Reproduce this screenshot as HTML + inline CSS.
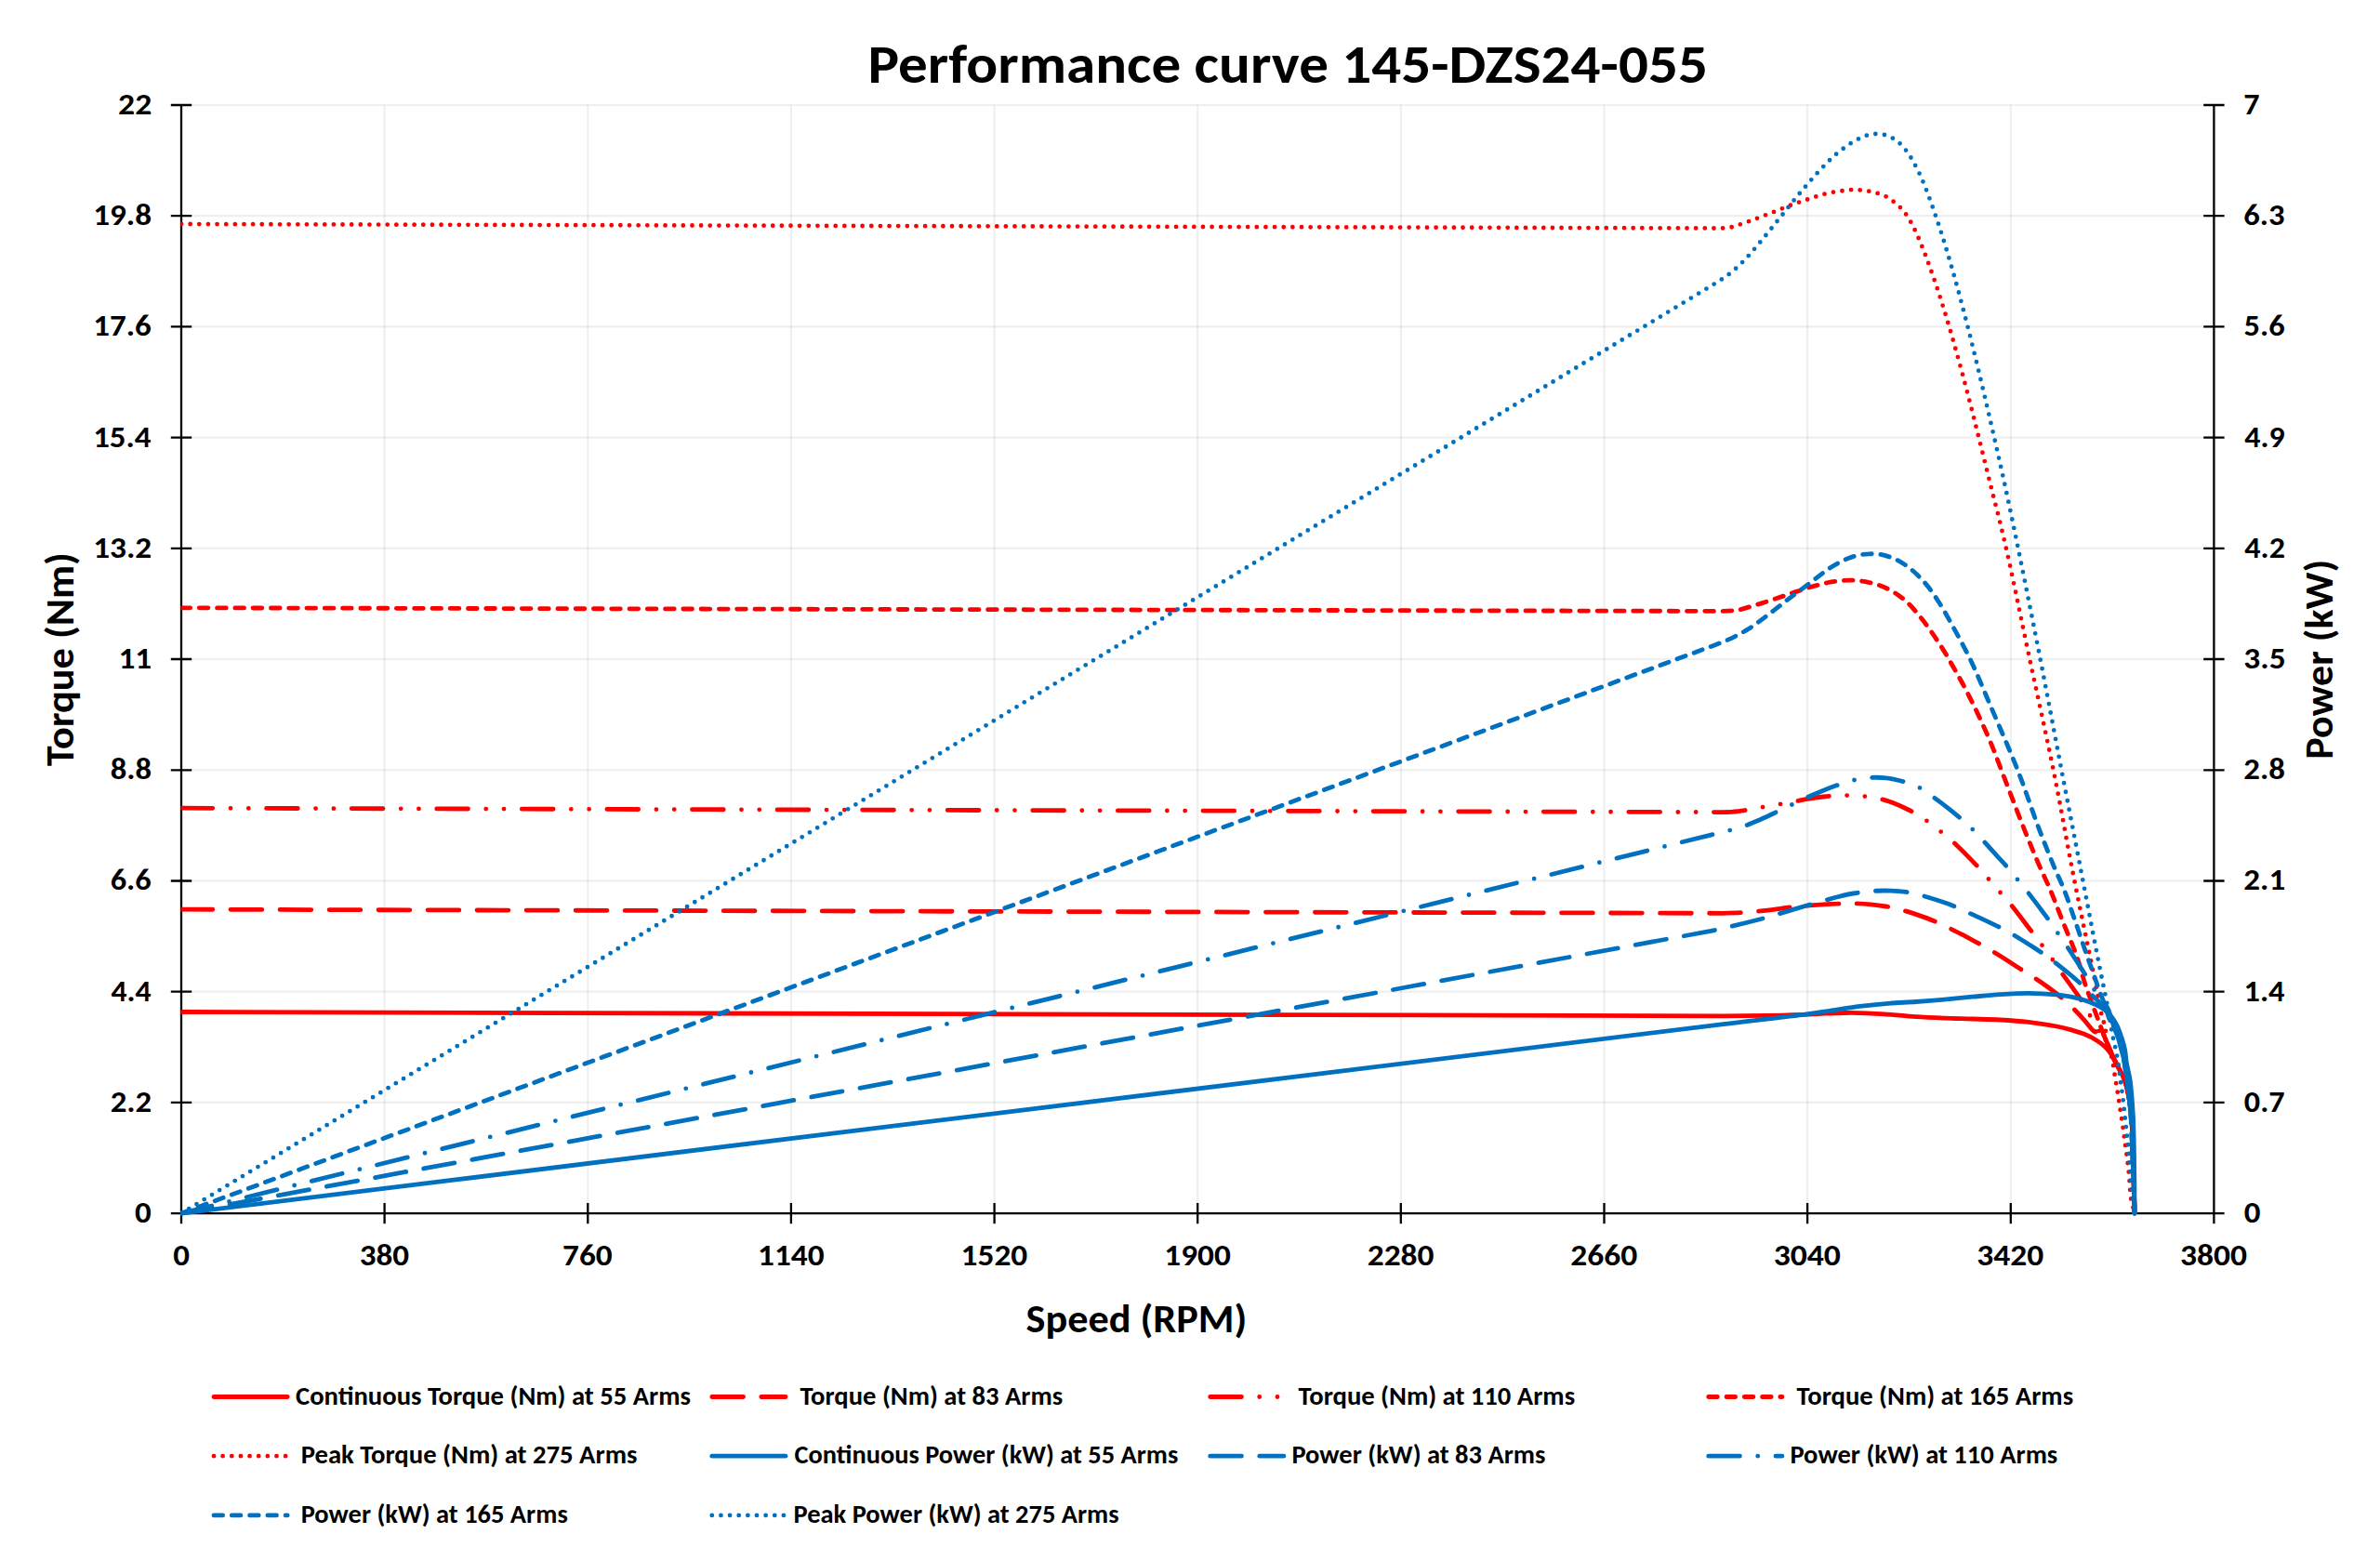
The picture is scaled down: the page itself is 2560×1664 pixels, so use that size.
<!DOCTYPE html>
<html lang="en"><head><meta charset="utf-8"><title>Performance curve 145-DZS24-055</title>
<style>
html,body{margin:0;padding:0;background:#fff;}
body{width:2560px;height:1664px;overflow:hidden;}
svg{display:block;}
text{font-family:Carlito,"Liberation Sans",sans-serif;font-weight:700;fill:#000;font-size-adjust:cap-height 0.6484;}
.ser{fill:none;stroke-width:4.82;stroke-linecap:round;stroke-linejoin:round;}
.ax{stroke:#000;stroke-width:2.3;fill:none;}
.gr{stroke:#000;stroke-opacity:.062;stroke-width:2.2;fill:none;}
</style></head><body>
<svg width="2560" height="1664" viewBox="0 0 2560 1664">
<rect width="2560" height="1664" fill="#fff"/>
<path class="gr" d="M195.0 113.0H2381.4M195.0 232.2H2381.4M195.0 351.4H2381.4M195.0 470.6H2381.4M195.0 589.8H2381.4M195.0 709.0H2381.4M195.0 828.3H2381.4M195.0 947.5H2381.4M195.0 1066.7H2381.4M195.0 1185.9H2381.4"/>
<path class="gr" d="M413.6 113.0V1305.1M632.3 113.0V1305.1M850.9 113.0V1305.1M1069.6 113.0V1305.1M1288.2 113.0V1305.1M1506.8 113.0V1305.1M1725.5 113.0V1305.1M1944.1 113.0V1305.1M2162.8 113.0V1305.1"/>
<path class="ax" d="M195.0 113.0V1316.3M2381.4 113.0V1316.3M183.8 1305.1H2392.6M183.8 113.0H206.2M2370.2 113.0H2392.6M183.8 232.2H206.2M2370.2 232.2H2392.6M183.8 351.4H206.2M2370.2 351.4H2392.6M183.8 470.6H206.2M2370.2 470.6H2392.6M183.8 589.8H206.2M2370.2 589.8H2392.6M183.8 709.0H206.2M2370.2 709.0H2392.6M183.8 828.3H206.2M2370.2 828.3H2392.6M183.8 947.5H206.2M2370.2 947.5H2392.6M183.8 1066.7H206.2M2370.2 1066.7H2392.6M183.8 1185.9H206.2M2370.2 1185.9H2392.6M413.6 1293.9V1316.3M632.3 1293.9V1316.3M850.9 1293.9V1316.3M1069.6 1293.9V1316.3M1288.2 1293.9V1316.3M1506.8 1293.9V1316.3M1725.5 1293.9V1316.3M1944.1 1293.9V1316.3M2162.8 1293.9V1316.3"/>
<defs><clipPath id="plot"><rect x="194.5" y="110.0" width="2189.9" height="1197.7"/></clipPath></defs>
<g clip-path="url(#plot)">
<path class="ser" stroke="#ff0000" d="M195.0 1088.5 L1852.4 1092.8C1868.3 1092.7 1884.1 1092.6 1900.0 1092.3C1913.3 1092.1 1926.7 1091.7 1940.0 1091.3C1947.6 1091.0 1955.1 1090.5 1962.7 1090.2C1970.3 1089.9 1977.8 1089.6 1985.4 1089.5C1993.0 1089.4 2000.5 1089.5 2008.1 1089.8C2015.7 1090.1 2023.2 1090.6 2030.8 1091.1C2040.8 1091.9 2050.9 1093.0 2061.0 1093.7C2071.1 1094.4 2081.2 1094.8 2091.3 1095.2C2101.3 1095.6 2111.4 1095.7 2121.5 1096.0C2131.6 1096.3 2141.7 1096.4 2151.8 1097.0C2161.9 1097.6 2172.0 1098.3 2182.0 1099.4C2192.1 1100.6 2202.2 1102.2 2212.3 1104.0C2217.4 1104.9 2222.4 1106.2 2227.4 1107.6C2232.5 1109.1 2237.6 1110.6 2242.5 1112.6C2246.7 1114.3 2250.8 1116.3 2254.6 1118.7C2257.8 1120.6 2260.9 1122.9 2263.7 1125.5C2265.9 1127.5 2268.0 1129.8 2269.7 1132.3C2271.5 1134.7 2272.9 1137.4 2274.3 1140.0C2275.9 1143.0 2277.5 1146.0 2279.0 1149.0C2281.0 1153.0 2283.5 1156.8 2285.0 1161.0C2287.0 1166.5 2288.4 1172.3 2289.5 1178.0C2290.9 1185.3 2291.9 1192.6 2292.5 1200.0C2293.4 1210.0 2293.6 1220.0 2294.0 1230.0C2294.4 1241.7 2294.7 1253.3 2295.0 1265.0C2295.4 1278.4 2295.7 1291.7 2296.0 1305.1"/>
<path class="ser" stroke="#ff0000" stroke-dasharray="33.74 19.28" d="M195.0 978.2 L1852.4 982.3C1859.2 982.2 1865.9 982.1 1872.6 981.7C1878.0 981.5 1883.4 980.9 1888.7 980.4C1895.0 979.8 1901.3 979.0 1907.6 978.3C1913.8 977.5 1920.1 976.5 1926.4 975.8C1932.4 975.2 1938.4 974.7 1944.4 974.2C1950.0 973.7 1955.7 973.2 1961.3 972.9C1966.7 972.5 1972.1 972.2 1977.5 972.1C1982.9 971.9 1988.2 971.7 1993.6 971.8C1999.9 971.9 2006.2 972.3 2012.4 972.9C2017.8 973.4 2023.2 974.1 2028.6 975.0C2034.0 976.0 2039.4 977.1 2044.7 978.5C2051.1 980.2 2057.3 982.3 2063.5 984.4C2069.0 986.3 2074.4 988.2 2079.7 990.4C2085.1 992.6 2090.5 995.3 2095.8 997.9C2101.2 1000.5 2106.6 1003.1 2111.9 1005.9C2121.9 1011.3 2131.9 1016.6 2141.7 1022.4C2152.3 1028.6 2162.5 1035.4 2172.9 1042.0C2177.7 1045.0 2182.3 1048.1 2187.1 1051.1C2187.4 1051.3 2187.8 1051.3 2188.1 1051.5C2196.2 1057.3 2204.5 1062.8 2212.3 1069.0C2218.4 1073.8 2224.1 1079.1 2229.7 1084.5C2234.0 1088.5 2237.9 1092.9 2241.8 1097.2C2245.7 1101.4 2249.6 1107.9 2253.3 1110.0C2254.5 1110.7 2255.4 1106.9 2256.5 1105.5C2257.3 1104.5 2258.5 1102.2 2259.0 1102.8C2260.5 1104.6 2261.4 1109.4 2262.7 1112.7C2264.1 1116.2 2265.6 1119.6 2267.0 1123.0C2268.3 1126.2 2269.6 1129.3 2271.0 1132.5C2272.1 1135.0 2273.1 1137.5 2274.3 1140.0C2275.8 1143.0 2277.5 1146.0 2279.0 1149.0C2281.0 1153.0 2283.5 1156.8 2285.0 1161.0C2287.0 1166.5 2288.4 1172.3 2289.5 1178.0C2290.9 1185.3 2291.9 1192.6 2292.5 1200.0C2293.4 1210.0 2293.6 1220.0 2294.0 1230.0C2294.4 1241.7 2294.7 1253.3 2295.0 1265.0C2295.4 1278.4 2295.7 1291.7 2296.0 1305.1"/>
<path class="ser" stroke="#ff0000" stroke-dasharray="33.74 19.28 0 19.28 0 19.28" d="M195.0 869.2 L1852.4 873.6C1858.3 873.5 1864.1 873.3 1869.9 872.6C1878.0 871.6 1886.1 869.9 1894.1 868.5C1904.9 866.7 1915.6 864.8 1926.4 862.9C1932.4 861.8 1938.4 860.4 1944.4 859.4C1950.0 858.4 1955.7 857.6 1961.3 857.0C1965.8 856.5 1970.3 856.1 1974.8 855.9C1979.3 855.7 1983.8 855.5 1988.2 855.6C1993.6 855.7 1999.0 855.9 2004.4 856.4C2009.8 857.0 2015.2 857.7 2020.5 858.9C2026.0 860.1 2031.4 861.7 2036.6 863.7C2042.1 865.8 2047.5 868.3 2052.8 871.0C2058.3 873.8 2063.7 876.9 2068.9 880.4C2074.5 884.1 2079.8 888.3 2085.0 892.5C2090.5 896.8 2096.1 901.1 2101.2 905.9C2109.5 913.7 2117.5 921.9 2125.4 930.1C2129.5 934.5 2133.4 939.2 2137.3 943.7C2141.6 948.5 2145.8 953.3 2149.9 958.1C2154.1 962.9 2158.4 967.5 2162.4 972.4C2169.6 981.4 2176.5 990.6 2183.5 999.7C2187.4 1004.6 2191.2 1009.6 2194.9 1014.6C2198.8 1019.7 2202.7 1024.9 2206.4 1030.1C2210.1 1035.4 2213.6 1040.8 2217.3 1046.0C2223.4 1054.7 2230.0 1062.9 2235.8 1071.7C2239.7 1077.5 2243.0 1083.8 2246.6 1089.8C2249.4 1094.6 2252.2 1099.3 2255.0 1104.0C2257.5 1108.3 2260.1 1112.6 2262.5 1117.0C2264.8 1121.1 2266.9 1125.3 2269.0 1129.5C2270.8 1133.0 2272.5 1136.5 2274.3 1140.0C2275.8 1143.0 2277.5 1146.0 2279.0 1149.0C2281.0 1153.0 2283.5 1156.8 2285.0 1161.0C2287.0 1166.5 2288.4 1172.3 2289.5 1178.0C2290.9 1185.3 2291.9 1192.6 2292.5 1200.0C2293.4 1210.0 2293.6 1220.0 2294.0 1230.0C2294.4 1241.7 2294.7 1253.3 2295.0 1265.0C2295.4 1278.4 2295.7 1291.7 2296.0 1305.1"/>
<path class="ser" stroke="#ff0000" stroke-dasharray="9.64 9.64" d="M195.0 653.8 L1852.4 657.4C1858.3 657.2 1864.2 657.0 1869.9 656.1C1873.6 655.5 1877.1 654.2 1880.7 653.1C1885.2 651.8 1889.7 650.5 1894.1 649.1C1903.1 646.2 1912.0 643.2 1921.0 640.2C1928.8 637.6 1936.5 634.8 1944.4 632.4C1951.8 630.2 1959.2 628.2 1966.7 626.5C1970.3 625.7 1973.9 625.3 1977.5 624.9C1981.0 624.5 1984.6 624.1 1988.2 624.1C1991.8 624.1 1995.4 624.3 1999.0 624.6C2002.6 625.0 2006.2 625.5 2009.7 626.3C2013.4 627.0 2017.0 628.0 2020.5 629.2C2024.2 630.5 2027.8 632.0 2031.3 633.8C2035.0 635.7 2038.6 637.8 2042.0 640.2C2045.8 642.9 2049.5 645.9 2052.8 649.1C2056.6 652.9 2060.1 657.0 2063.5 661.2C2067.3 665.7 2070.8 670.4 2074.3 675.2C2078.0 680.3 2081.6 685.5 2085.0 690.8C2088.8 696.5 2092.4 702.3 2095.8 708.3C2103.2 721.2 2110.6 734.0 2117.3 747.3C2124.9 762.3 2132.1 777.6 2138.8 793.0C2143.9 804.6 2148.2 816.6 2152.8 828.5C2160.7 848.9 2168.4 869.4 2176.5 889.8C2181.8 903.3 2187.4 916.7 2193.1 930.1C2197.0 939.1 2201.4 947.8 2205.2 956.8C2210.2 968.6 2214.6 980.7 2219.3 992.6C2224.2 1004.7 2229.6 1016.6 2233.9 1028.9C2237.3 1038.3 2239.5 1048.1 2242.5 1057.6C2244.6 1063.9 2247.0 1070.1 2249.2 1076.4C2251.4 1082.5 2253.7 1088.5 2256.0 1094.5C2258.2 1100.6 2260.4 1106.7 2262.7 1112.7C2264.0 1116.2 2265.6 1119.6 2267.0 1123.0C2268.3 1126.2 2269.6 1129.3 2271.0 1132.5C2272.1 1135.0 2273.1 1137.5 2274.3 1140.0C2275.8 1143.0 2277.5 1146.0 2279.0 1149.0C2281.0 1153.0 2283.5 1156.8 2285.0 1161.0C2287.0 1166.5 2288.4 1172.3 2289.5 1178.0C2290.9 1185.3 2291.9 1192.6 2292.5 1200.0C2293.4 1210.0 2293.6 1220.0 2294.0 1230.0C2294.4 1241.7 2294.7 1253.3 2295.0 1265.0C2295.4 1278.4 2295.7 1291.7 2296.0 1305.1"/>
<path class="ser" stroke="#ff0000" stroke-dasharray="0 9.64" d="M195.0 241.0 L1852.4 245.5C1855.6 245.3 1858.8 245.0 1861.8 244.4C1864.9 243.8 1867.8 242.7 1870.7 241.7C1876.8 239.7 1882.8 237.5 1888.7 235.3C1894.9 233.0 1900.9 230.6 1907.0 228.3C1913.1 225.9 1919.2 223.3 1925.3 221.0C1931.3 218.8 1937.3 216.8 1943.3 214.8C1949.4 212.8 1955.4 210.5 1961.6 208.9C1967.8 207.3 1974.1 206.3 1980.4 205.4C1985.2 204.7 1989.9 204.1 1994.7 204.1C1999.4 204.1 2004.2 204.7 2008.9 205.4C2012.1 205.9 2015.3 206.7 2018.4 207.6C2021.5 208.5 2024.6 209.4 2027.5 210.8C2030.4 212.2 2033.2 214.2 2035.8 216.2C2038.5 218.1 2041.0 220.3 2043.4 222.6C2045.6 224.8 2047.7 227.1 2049.5 229.6C2051.4 232.2 2053.1 234.9 2054.7 237.7C2056.3 240.5 2057.8 243.3 2059.2 246.3C2062.0 252.1 2064.6 258.0 2067.0 264.0C2070.6 273.0 2074.0 282.1 2077.2 291.2C2081.5 303.2 2085.5 315.3 2089.3 327.5C2094.2 342.9 2098.7 358.5 2103.1 374.0C2108.3 392.5 2113.3 411.1 2118.1 429.7C2125.3 457.6 2132.1 485.6 2139.1 513.6C2145.3 538.6 2152.0 563.5 2157.6 588.6C2166.7 628.6 2174.6 668.9 2183.2 709.1C2191.7 748.9 2200.7 788.6 2208.7 828.5C2215.5 861.6 2221.2 894.9 2227.6 928.1C2230.6 943.8 2233.8 959.5 2237.0 975.3C2240.2 991.0 2243.5 1006.8 2246.8 1022.6C2249.4 1035.3 2252.1 1047.9 2254.6 1060.7C2256.5 1070.1 2258.0 1079.7 2260.0 1089.2C2261.3 1095.3 2263.7 1101.2 2264.7 1107.3C2265.3 1110.7 2263.9 1114.4 2264.6 1117.8C2266.0 1123.9 2269.4 1129.7 2271.1 1135.9C2272.7 1141.8 2273.3 1147.9 2274.3 1154.0C2275.4 1160.4 2276.5 1166.9 2277.5 1173.4C2278.6 1179.8 2279.5 1186.3 2280.5 1192.8C2281.5 1199.1 2282.5 1205.5 2283.4 1211.9C2284.3 1218.2 2285.1 1224.6 2285.9 1230.9C2286.8 1237.2 2287.8 1243.4 2288.5 1249.7C2289.3 1256.1 2289.9 1262.6 2290.5 1269.1C2291.1 1275.5 2291.0 1282.1 2292.0 1288.4C2292.9 1294.1 2294.7 1299.5 2296.0 1305.1"/>
<path class="ser" stroke="#0070c0" d="M195.0 1305.1 L1853.8 1101.6C1882.5 1098.1 1911.3 1095.1 1940.0 1091.4C1950.1 1090.2 1960.2 1088.4 1970.3 1086.9C1980.3 1085.4 1990.4 1083.6 2000.5 1082.4C2010.6 1081.1 2020.7 1080.1 2030.8 1079.3C2040.8 1078.5 2050.9 1078.2 2061.0 1077.5C2071.1 1076.8 2081.2 1076.0 2091.3 1075.1C2101.4 1074.2 2111.4 1073.1 2121.5 1072.2C2131.6 1071.3 2141.7 1070.3 2151.8 1069.6C2161.8 1069.0 2171.9 1068.4 2182.0 1068.4C2192.1 1068.5 2202.2 1069.1 2212.3 1069.9C2217.3 1070.4 2222.4 1071.2 2227.4 1072.2C2232.5 1073.2 2237.6 1074.4 2242.5 1076.0C2246.7 1077.3 2250.7 1079.0 2254.6 1080.8C2257.8 1082.3 2260.9 1084.0 2263.7 1086.1C2266.5 1088.3 2269.1 1090.9 2271.3 1093.7C2273.6 1096.7 2275.6 1100.1 2277.3 1103.5C2279.2 1107.4 2280.5 1111.5 2281.8 1115.6C2283.3 1120.1 2284.7 1124.6 2285.6 1129.2C2286.5 1133.5 2286.5 1138.0 2287.2 1142.3C2288.3 1148.8 2290.1 1155.2 2291.1 1161.7C2292.1 1168.1 2292.5 1174.6 2293.1 1181.1C2293.6 1187.6 2294.0 1194.0 2294.4 1200.5C2294.7 1207.0 2294.8 1213.4 2295.0 1219.9C2295.2 1226.4 2295.3 1232.8 2295.4 1239.3C2295.5 1245.8 2295.6 1252.2 2295.6 1258.7C2295.7 1265.2 2295.9 1271.6 2295.9 1278.1C2296.0 1287.1 2296.0 1296.1 2296.0 1305.1"/>
<path class="ser" stroke="#0070c0" stroke-dasharray="33.74 19.28" d="M195.0 1305.1 L1840.3 1001.4C1847.5 999.9 1854.7 998.3 1861.8 996.5C1872.6 994.0 1883.4 991.3 1894.1 988.5C1900.4 986.8 1906.7 984.9 1912.9 983.1C1923.4 980.0 1933.9 976.8 1944.4 973.7C1950.0 972.0 1955.7 970.4 1961.3 968.8C1966.7 967.4 1972.1 965.8 1977.5 964.5C1982.8 963.2 1988.2 961.9 1993.6 961.0C2000.7 959.9 2007.9 958.9 2015.1 958.4C2021.4 957.9 2027.7 957.9 2033.9 958.1C2039.3 958.2 2044.8 958.6 2050.1 959.4C2056.4 960.5 2062.7 962.0 2068.9 963.7C2078.0 966.3 2087.0 969.1 2095.8 972.3C2103.1 975.1 2110.2 978.5 2117.3 981.7C2127.7 986.4 2138.0 991.2 2148.2 996.1C2153.7 998.8 2159.1 1001.6 2164.4 1004.7C2174.4 1010.7 2184.3 1016.9 2194.1 1023.4C2199.1 1026.7 2204.0 1030.2 2208.7 1033.9C2217.7 1041.0 2226.6 1048.0 2235.1 1055.5C2239.9 1059.7 2244.0 1064.6 2248.6 1069.0C2253.7 1074.0 2259.3 1078.5 2264.0 1083.8C2266.3 1086.3 2268.0 1089.4 2269.5 1092.5C2271.4 1096.5 2272.5 1100.8 2274.0 1105.0C2275.5 1109.0 2277.2 1112.9 2278.5 1117.0C2279.9 1121.4 2281.1 1126.0 2282.3 1130.5C2283.2 1134.1 2284.2 1137.8 2284.8 1141.5C2286.1 1148.6 2287.0 1155.8 2288.0 1163.0C2288.9 1169.3 2289.6 1175.7 2290.3 1182.0C2291.0 1188.3 2291.5 1194.7 2292.0 1201.0C2292.4 1207.3 2292.7 1213.7 2293.0 1220.0C2293.3 1226.7 2293.5 1233.3 2293.8 1240.0C2294.0 1246.3 2294.3 1252.7 2294.5 1259.0C2294.7 1265.3 2295.0 1271.7 2295.2 1278.0C2295.5 1287.0 2295.7 1296.1 2296.0 1305.1"/>
<path class="ser" stroke="#0070c0" stroke-dasharray="33.74 19.28 0 19.28" d="M195.0 1305.1 L1840.3 898.1C1846.6 896.6 1852.9 895.2 1859.2 893.5C1865.5 891.8 1871.8 890.1 1878.0 887.9C1883.5 886.0 1888.8 883.5 1894.1 881.2C1898.6 879.2 1903.1 877.1 1907.6 875.0C1913.6 872.2 1919.6 869.2 1925.6 866.4C1931.8 863.4 1938.1 860.4 1944.4 857.5C1950.0 855.0 1955.7 852.6 1961.3 850.3C1965.8 848.4 1970.3 846.7 1974.8 845.1C1980.6 843.1 1986.3 840.9 1992.3 839.5C1998.9 838.0 2005.7 837.0 2012.4 836.5C2017.8 836.1 2023.2 836.2 2028.6 836.8C2034.0 837.4 2039.4 838.6 2044.7 840.0C2050.8 841.7 2057.1 843.4 2062.7 846.2C2068.7 849.2 2074.1 853.6 2079.7 857.5C2085.2 861.4 2090.6 865.4 2095.8 869.6C2104.0 876.3 2112.4 882.9 2120.0 890.3C2129.4 899.5 2137.9 909.7 2146.9 919.4C2150.2 922.9 2153.6 926.4 2156.8 930.1C2160.8 934.7 2164.7 939.5 2168.6 944.2C2172.6 949.0 2176.6 953.9 2180.5 958.8C2187.5 967.8 2194.4 976.9 2201.2 986.1C2204.9 991.2 2208.4 996.5 2212.0 1001.7C2215.6 1006.9 2219.3 1012.0 2222.9 1017.3C2229.2 1026.8 2235.4 1036.4 2241.5 1046.0C2244.9 1051.4 2247.9 1056.9 2251.3 1062.3C2253.8 1066.4 2256.5 1070.4 2259.3 1074.4C2261.7 1077.6 2264.8 1080.4 2266.7 1083.8C2268.4 1086.7 2269.2 1090.2 2270.3 1093.5C2271.6 1097.3 2272.7 1101.2 2274.0 1105.0C2275.4 1109.0 2277.2 1112.9 2278.5 1117.0C2279.9 1121.4 2281.1 1126.0 2282.3 1130.5C2283.2 1134.1 2284.2 1137.8 2284.8 1141.5C2286.1 1148.6 2287.0 1155.8 2288.0 1163.0C2288.9 1169.3 2289.6 1175.7 2290.3 1182.0C2291.0 1188.3 2291.5 1194.7 2292.0 1201.0C2292.4 1207.3 2292.7 1213.7 2293.0 1220.0C2293.3 1226.7 2293.5 1233.3 2293.8 1240.0C2294.0 1246.3 2294.3 1252.7 2294.5 1259.0C2294.7 1265.3 2295.0 1271.7 2295.2 1278.0C2295.5 1287.0 2295.7 1296.1 2296.0 1305.1"/>
<path class="ser" stroke="#0070c0" stroke-dasharray="9.64 9.64" d="M195.0 1305.1 L1840.3 695.4C1844.8 693.7 1849.4 692.1 1853.8 690.3C1858.3 688.3 1862.8 686.3 1867.2 684.1C1871.8 681.7 1876.3 679.3 1880.7 676.5C1885.3 673.6 1889.7 670.4 1894.1 667.1C1898.7 663.8 1903.1 660.3 1907.6 656.9C1912.1 653.4 1916.5 649.9 1921.0 646.4C1928.8 640.5 1936.6 634.8 1944.4 628.9C1951.9 623.3 1959.1 617.4 1966.7 612.0C1970.1 609.6 1973.8 607.5 1977.5 605.5C1981.0 603.7 1984.5 601.9 1988.2 600.4C1991.7 599.1 1995.3 598.0 1999.0 597.2C2002.5 596.5 2006.1 596.0 2009.7 595.9C2013.3 595.7 2017.0 595.7 2020.5 596.1C2024.1 596.6 2027.8 597.4 2031.3 598.6C2035.0 599.8 2038.6 601.3 2042.0 603.1C2045.8 605.1 2049.4 607.5 2052.8 610.1C2056.6 613.0 2060.2 616.2 2063.5 619.5C2067.3 623.3 2071.0 627.4 2074.3 631.6C2078.1 636.5 2081.7 641.7 2085.0 647.0C2088.9 652.9 2092.4 659.0 2095.8 665.2C2103.8 679.8 2112.0 694.2 2119.2 709.1C2126.3 723.8 2132.4 739.0 2138.8 754.0C2149.4 778.8 2160.4 803.4 2170.3 828.5C2178.3 848.7 2184.9 869.4 2192.6 889.8C2197.9 903.9 2203.5 918.0 2209.3 932.0C2212.8 940.5 2217.0 948.7 2220.3 957.3C2224.9 969.1 2228.8 981.2 2232.9 993.1C2237.2 1005.4 2241.3 1017.7 2245.5 1029.9C2247.6 1035.8 2249.9 1041.6 2251.9 1047.5C2254.0 1053.5 2255.8 1059.6 2258.0 1065.6C2260.1 1071.3 2262.7 1076.8 2264.7 1082.4C2266.2 1086.6 2266.8 1091.0 2268.5 1095.0C2269.9 1098.5 2272.4 1101.5 2274.0 1105.0C2275.8 1108.9 2277.2 1112.9 2278.5 1117.0C2279.9 1121.4 2281.1 1126.0 2282.3 1130.5C2283.2 1134.1 2284.2 1137.8 2284.8 1141.5C2286.1 1148.6 2287.0 1155.8 2288.0 1163.0C2288.9 1169.3 2289.6 1175.7 2290.3 1182.0C2291.0 1188.3 2291.5 1194.7 2292.0 1201.0C2292.4 1207.3 2292.7 1213.7 2293.0 1220.0C2293.3 1226.7 2293.5 1233.3 2293.8 1240.0C2294.0 1246.3 2294.3 1252.7 2294.5 1259.0C2294.7 1265.3 2295.0 1271.7 2295.2 1278.0C2295.5 1287.0 2295.7 1296.1 2296.0 1305.1"/>
<path class="ser" stroke="#0070c0" stroke-dasharray="0 9.64" d="M195.0 1305.1 L1840.3 307.6C1843.8 305.5 1847.4 303.4 1850.8 301.1C1853.6 299.4 1856.3 297.5 1858.9 295.5C1861.4 293.6 1863.8 291.6 1866.2 289.6C1868.5 287.5 1870.9 285.3 1873.1 283.1C1875.5 280.9 1877.7 278.5 1879.9 276.1C1884.2 271.3 1888.4 266.3 1892.5 261.3C1898.6 254.0 1904.6 246.7 1910.5 239.3C1916.7 231.7 1922.6 224.0 1928.8 216.4C1934.9 209.0 1941.1 201.6 1947.4 194.4C1951.6 189.5 1956.0 184.6 1960.5 179.9C1965.0 175.3 1969.4 170.6 1974.3 166.4C1979.1 162.3 1984.3 158.5 1989.6 154.9C1992.2 153.0 1995.1 151.5 1997.9 150.0C2000.8 148.5 2003.7 147.0 2006.8 146.0C2009.7 145.0 2012.9 144.3 2015.9 144.1C2019.0 143.9 2022.3 144.0 2025.3 144.6C2028.5 145.3 2031.6 146.4 2034.5 147.9C2037.3 149.3 2039.9 151.2 2042.3 153.2C2044.7 155.3 2047.0 157.7 2049.0 160.2C2051.1 162.8 2052.9 165.5 2054.7 168.3C2056.4 171.0 2058.0 173.8 2059.5 176.6C2062.4 182.3 2065.4 188.0 2067.8 193.8C2071.5 202.7 2074.9 211.7 2078.1 220.7C2082.3 232.8 2086.4 244.9 2090.2 257.0C2095.0 272.5 2099.5 288.0 2103.9 303.6C2109.0 322.2 2113.9 341.0 2118.7 359.8C2124.1 381.5 2129.4 403.3 2134.5 425.1C2141.1 453.3 2147.6 481.5 2153.9 509.8C2159.4 534.7 2164.6 559.6 2169.7 584.6C2178.2 625.9 2186.4 667.2 2194.5 708.5C2202.4 748.8 2209.9 789.0 2217.6 829.3C2223.8 861.3 2230.0 893.3 2236.2 925.2C2239.2 941.0 2242.3 956.8 2245.3 972.6C2248.4 988.4 2251.3 1004.2 2254.4 1019.9C2257.5 1035.7 2260.7 1051.5 2263.9 1067.2C2264.5 1070.3 2265.1 1073.3 2265.7 1076.4C2266.4 1079.5 2267.2 1082.6 2267.7 1085.8C2269.4 1095.1 2270.6 1104.6 2272.4 1113.9C2273.3 1118.7 2274.6 1123.3 2275.6 1128.1C2276.6 1132.8 2277.5 1137.6 2278.2 1142.3C2279.2 1148.8 2279.9 1155.3 2280.8 1161.7C2281.6 1168.1 2282.6 1174.5 2283.4 1180.9C2284.2 1187.3 2284.8 1193.7 2285.6 1200.1C2286.3 1206.5 2286.9 1212.9 2287.6 1219.3C2288.3 1225.7 2289.2 1232.2 2289.8 1238.7C2290.4 1245.1 2290.7 1251.6 2291.1 1258.1C2291.6 1264.7 2292.0 1271.4 2292.7 1278.1C2293.6 1287.1 2294.9 1296.1 2296.0 1305.1"/>
</g>
<path class="ser" stroke="#ff0000" d="M230.0 1502.5H309.2"/>
<path class="ser" stroke="#ff0000" stroke-dasharray="33.74 19.28" d="M765.8 1502.5H845.0"/>
<path class="ser" stroke="#ff0000" stroke-dasharray="33.74 19.28 0 19.28 0 19.28" d="M1301.7 1502.5H1380.9"/>
<path class="ser" stroke="#ff0000" stroke-dasharray="9.64 9.64" d="M1837.7 1502.5H1916.9"/>
<path class="ser" stroke="#ff0000" stroke-dasharray="0 9.64" d="M230.0 1566.2H309.2"/>
<path class="ser" stroke="#0070c0" d="M765.8 1566.2H845.0"/>
<path class="ser" stroke="#0070c0" stroke-dasharray="33.74 19.28" d="M1301.7 1566.2H1380.9"/>
<path class="ser" stroke="#0070c0" stroke-dasharray="33.74 19.28 0 19.28" d="M1837.7 1566.2H1916.9"/>
<path class="ser" stroke="#0070c0" stroke-dasharray="9.64 9.64" d="M230.0 1629.9H309.2"/>
<path class="ser" stroke="#0070c0" stroke-dasharray="0 9.64" d="M765.8 1629.9H845.0"/>
<text id="yl0" x="127.10" y="123.00" font-size="31.80" textLength="36.15" lengthAdjust="spacingAndGlyphs">22</text>
<text id="yl1" x="100.15" y="242.21" font-size="31.80" textLength="62.85" lengthAdjust="spacingAndGlyphs">19.8</text>
<text id="yl2" x="100.15" y="361.42" font-size="31.80" textLength="62.60" lengthAdjust="spacingAndGlyphs">17.6</text>
<text id="yl3" x="100.15" y="480.63" font-size="31.80" textLength="62.35" lengthAdjust="spacingAndGlyphs">15.4</text>
<text id="yl4" x="100.15" y="599.84" font-size="31.80" textLength="63.10" lengthAdjust="spacingAndGlyphs">13.2</text>
<text id="yl5" x="127.50" y="719.05" font-size="31.80" textLength="35.75" lengthAdjust="spacingAndGlyphs">11</text>
<text id="yl6" x="118.70" y="838.26" font-size="31.80" textLength="44.30" lengthAdjust="spacingAndGlyphs">8.8</text>
<text id="yl7" x="118.70" y="957.47" font-size="31.80" textLength="44.05" lengthAdjust="spacingAndGlyphs">6.6</text>
<text id="yl8" x="119.45" y="1076.68" font-size="31.80" textLength="43.05" lengthAdjust="spacingAndGlyphs">4.4</text>
<text id="yl9" x="118.70" y="1195.89" font-size="31.80" textLength="44.55" lengthAdjust="spacingAndGlyphs">2.2</text>
<text id="yl10" x="145.05" y="1315.10" font-size="31.80" textLength="17.70" lengthAdjust="spacingAndGlyphs">0</text>
<text id="yr0" x="2413.35" y="123.00" font-size="31.80" textLength="17.25" lengthAdjust="spacingAndGlyphs">7</text>
<text id="yr1" x="2413.35" y="242.21" font-size="31.80" textLength="44.30" lengthAdjust="spacingAndGlyphs">6.3</text>
<text id="yr2" x="2413.60" y="361.42" font-size="31.80" textLength="44.05" lengthAdjust="spacingAndGlyphs">5.6</text>
<text id="yr3" x="2414.35" y="480.63" font-size="31.80" textLength="43.30" lengthAdjust="spacingAndGlyphs">4.9</text>
<text id="yr4" x="2414.35" y="599.84" font-size="31.80" textLength="43.55" lengthAdjust="spacingAndGlyphs">4.2</text>
<text id="yr5" x="2413.35" y="719.05" font-size="31.80" textLength="45.30" lengthAdjust="spacingAndGlyphs">3.5</text>
<text id="yr6" x="2413.35" y="838.26" font-size="31.80" textLength="44.55" lengthAdjust="spacingAndGlyphs">2.8</text>
<text id="yr7" x="2413.35" y="957.47" font-size="31.80" textLength="44.80" lengthAdjust="spacingAndGlyphs">2.1</text>
<text id="yr8" x="2413.50" y="1076.68" font-size="31.80" textLength="44.00" lengthAdjust="spacingAndGlyphs">1.4</text>
<text id="yr9" x="2413.85" y="1195.89" font-size="31.80" textLength="43.80" lengthAdjust="spacingAndGlyphs">0.7</text>
<text id="yr10" x="2413.85" y="1315.10" font-size="31.80" textLength="17.70" lengthAdjust="spacingAndGlyphs">0</text>
<text id="xl0" x="186.15" y="1360.90" font-size="31.80" textLength="17.70" lengthAdjust="spacingAndGlyphs">0</text>
<text id="xl1" x="386.66" y="1360.90" font-size="31.80" textLength="53.35" lengthAdjust="spacingAndGlyphs">380</text>
<text id="xl2" x="605.12" y="1360.90" font-size="31.80" textLength="53.60" lengthAdjust="spacingAndGlyphs">760</text>
<text id="xl3" x="815.13" y="1360.90" font-size="31.80" textLength="71.50" lengthAdjust="spacingAndGlyphs">1140</text>
<text id="xl4" x="1033.64" y="1360.90" font-size="31.80" textLength="71.65" lengthAdjust="spacingAndGlyphs">1520</text>
<text id="xl5" x="1252.35" y="1360.90" font-size="31.80" textLength="71.40" lengthAdjust="spacingAndGlyphs">1900</text>
<text id="xl6" x="1470.76" y="1360.90" font-size="31.80" textLength="71.75" lengthAdjust="spacingAndGlyphs">2280</text>
<text id="xl7" x="1689.22" y="1360.90" font-size="31.80" textLength="72.00" lengthAdjust="spacingAndGlyphs">2660</text>
<text id="xl8" x="1907.68" y="1360.90" font-size="31.80" textLength="72.25" lengthAdjust="spacingAndGlyphs">3040</text>
<text id="xl9" x="2126.39" y="1360.90" font-size="31.80" textLength="72.00" lengthAdjust="spacingAndGlyphs">3420</text>
<text id="xl10" x="2345.10" y="1360.90" font-size="31.80" textLength="72.00" lengthAdjust="spacingAndGlyphs">3800</text>
<text id="title" x="933.50" y="89.30" font-size="58.50" textLength="903.40" lengthAdjust="spacingAndGlyphs">Performance curve 145-DZS24-055</text>
<text id="xt" x="1103.45" y="1432.90" font-size="42.00" textLength="237.95" lengthAdjust="spacingAndGlyphs">Speed (RPM)</text>
<text id="ytl" transform="translate(79.20 824.20) rotate(-90)" x="0" y="0" font-size="42.00" textLength="230.10" lengthAdjust="spacingAndGlyphs">Torque (Nm)</text>
<text id="ytr" transform="translate(2509.40 816.65) rotate(-90)" x="0" y="0" font-size="42.00" textLength="214.75" lengthAdjust="spacingAndGlyphs">Power (kW)</text>
<text id="lg_T55" x="318.05" y="1510.50" font-size="28.00" textLength="425.00" lengthAdjust="spacingAndGlyphs">Continuous Torque (Nm) at 55 Arms</text>
<text id="lg_T83" x="860.40" y="1510.50" font-size="28.00" textLength="282.85" lengthAdjust="spacingAndGlyphs">Torque (Nm) at 83 Arms</text>
<text id="lg_T110" x="1396.60" y="1510.50" font-size="28.00" textLength="297.50" lengthAdjust="spacingAndGlyphs">Torque (Nm) at 110 Arms</text>
<text id="lg_T165" x="1932.60" y="1510.50" font-size="28.00" textLength="297.50" lengthAdjust="spacingAndGlyphs">Torque (Nm) at 165 Arms</text>
<text id="lg_T275" x="323.70" y="1574.20" font-size="28.00" textLength="361.75" lengthAdjust="spacingAndGlyphs">Peak Torque (Nm) at 275 Arms</text>
<text id="lg_P55" x="854.55" y="1574.20" font-size="28.00" textLength="412.70" lengthAdjust="spacingAndGlyphs">Continuous Power (kW) at 55 Arms</text>
<text id="lg_P83" x="1389.40" y="1574.20" font-size="28.00" textLength="273.00" lengthAdjust="spacingAndGlyphs">Power (kW) at 83 Arms</text>
<text id="lg_P110" x="1925.40" y="1574.20" font-size="28.00" textLength="287.85" lengthAdjust="spacingAndGlyphs">Power (kW) at 110 Arms</text>
<text id="lg_P165" x="323.70" y="1637.90" font-size="28.00" textLength="287.05" lengthAdjust="spacingAndGlyphs">Power (kW) at 165 Arms</text>
<text id="lg_P275" x="853.55" y="1637.90" font-size="28.00" textLength="350.05" lengthAdjust="spacingAndGlyphs">Peak Power (kW) at 275 Arms</text>
</svg></body></html>
